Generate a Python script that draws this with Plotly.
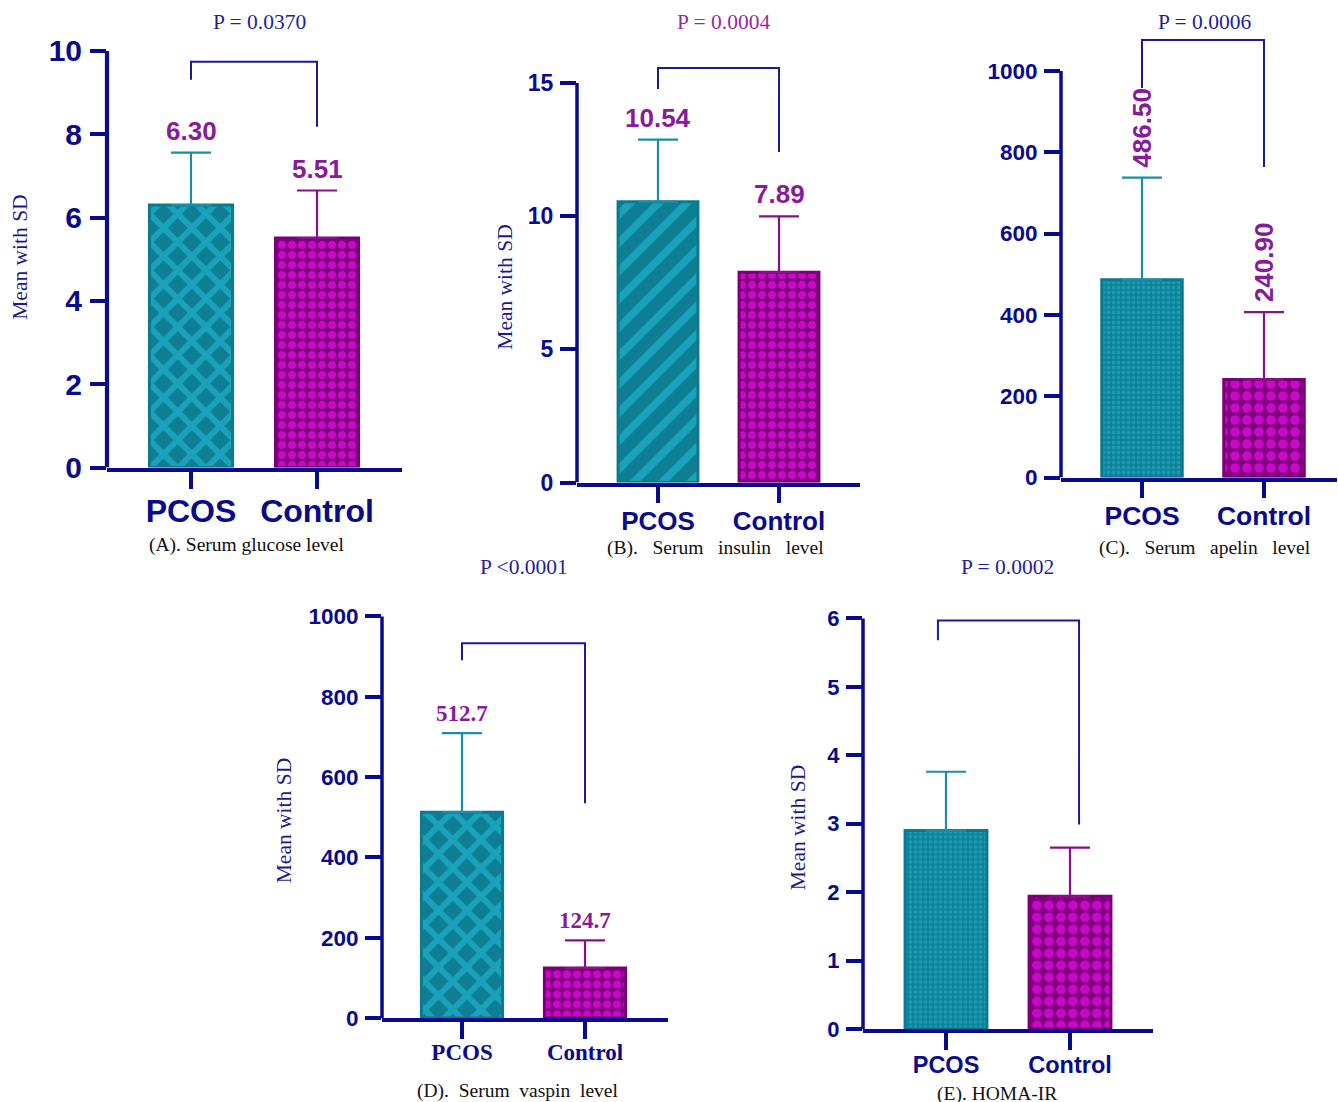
import plotly.graph_objects as go

W, H = 1338, 1102          # reference picture size (positions below are in these pixels)
FIG_H = 1118               # rendered figure height (photo is scaled back to H)
SANS = "Liberation Sans, Arial, sans-serif"
SERIF = "Liberation Serif, Times New Roman, serif"
NAVY = "#0a0a8c"
LABEL_PURPLE = "#8a1a9c"

# ---------------- data ----------------
categories = ["PCOS", "Control"]

glucose_mean = [6.30, 5.51]
glucose_sd = [1.26, 1.14]
insulin_mean = [10.54, 7.89]
insulin_sd = [2.33, 2.10]
apelin_mean = [486.50, 240.90]
apelin_sd = [251.0, 166.0]
vaspin_mean = [512.7, 124.7]
vaspin_sd = [197.0, 69.0]
homa_mean = [2.90, 1.94]
homa_sd = [0.86, 0.71]

glucose_ticks = [0, 2, 4, 6, 8, 10]
insulin_ticks = [0, 5, 10, 15]
apelin_ticks = [0, 200, 400, 600, 800, 1000]
vaspin_ticks = [0, 200, 400, 600, 800, 1000]
homa_ticks = [0, 1, 2, 3, 4, 5, 6]

glucose_labels = ["6.30", "5.51"]
insulin_labels = ["10.54", "7.89"]
apelin_labels = ["486.50", "240.90"]
vaspin_labels = ["512.7", "124.7"]
homa_labels = []

p_texts = ["P = 0.0370", "P = 0.0004", "P = 0.0006", "P <0.0001", "P = 0.0002"]
captions = [
    "(A). Serum glucose level",
    "(B).\u00a0\u00a0 Serum\u00a0\u00a0 insulin\u00a0\u00a0 level",
    "(C).\u00a0\u00a0 Serum\u00a0\u00a0 apelin\u00a0\u00a0 level",
    "(D).\u00a0 Serum\u00a0 vaspin\u00a0 level",
    "(E). HOMA-IR",
]
y_title = "Mean with SD"

# bracket heights (data units): left leg bottom, top, right leg bottom
brackets = [
    (0, 1, 9.31, 9.74, 8.18),
    (0, 1, 14.77, 15.56, 12.41),
    (0, 1, 958, 1076, 764),
    (0, 1, 891, 933, 535),
    (-0.065, 1.073, 5.68, 5.97, 2.99),
]

# ---------------- styles ----------------
TEAL_EDGE = "#0b7a8f"
PURP_EDGE = "#7a0078"
TEAL_ERR = "#1b8da5"
PURP_ERR = "#8a0f8a"

lattice = dict(shape="x", size=20, solidity=0.5, bgcolor="#0d7e94", fgcolor="#1aa2bb", fillmode="replace")
stripes = dict(shape="/", size=20, solidity=0.38, bgcolor="#0d7e94", fgcolor="#1aa2bb", fillmode="replace")
finechk = dict(shape=".", size=5, solidity=0.45, bgcolor="#0e8097", fgcolor="#1a9bb3", fillmode="replace")
purpchk = dict(shape=".", size=10, solidity=0.5, bgcolor="#82007f", fgcolor="#c80ac8", fillmode="replace")
purpchk2 = dict(shape=".", size=12, solidity=0.5, bgcolor="#82007f", fgcolor="#c80ac8", fillmode="replace")

panels = [
    dict(mean=glucose_mean, sd=glucose_sd, ticks=glucose_ticks, labels=glucose_labels,
         pat=(lattice, purpchk), spine=107, right=402, c0=191, c1=317, y0=468, ytop=51, domtop=30,
         lw=4.2, tfs=30, tfam=SANS, cfs=32, cfam=SANS, lfs=26, lfam=SANS, rot=False,
         p=(259, 22), pcol="#1f1f9a", cap=(247, 545), yt=(20, 258), stand=-5),
    dict(mean=insulin_mean, sd=insulin_sd, ticks=insulin_ticks, labels=insulin_labels,
         pat=(stripes, purpchk), spine=577, right=860, c0=658, c1=779, y0=483, ytop=83, domtop=30,
         lw=3.5, tfs=23, tfam=SANS, cfs=26, cfam=SANS, lfs=26, lfam=SANS, rot=False,
         p=(723, 22), pcol="#9a2a9c", cap=(715, 548), yt=(505, 288), stand=-5),
    dict(mean=apelin_mean, sd=apelin_sd, ticks=apelin_ticks, labels=apelin_labels,
         pat=(finechk, purpchk2), spine=1061, right=1337, c0=1142, c1=1264, y0=478, ytop=71, domtop=30,
         lw=3.5, tfs=22.5, tfam=SANS, cfs=26.5, cfam=SANS, lfs=26, lfam=SANS, rot=True,
         p=(1204, 22), pcol="#1f1f9a", cap=(1205, 548), yt=None, stand=-5),
    dict(mean=vaspin_mean, sd=vaspin_sd, ticks=vaspin_ticks, labels=vaspin_labels,
         pat=(lattice, purpchk), spine=382, right=668, c0=462, c1=585, y0=1019, ytop=617, domtop=600,
         lw=3.5, tfs=22.5, tfam=SANS, cfs=23, cfam=SERIF, lfs=23, lfam=SERIF, rot=False,
         p=(524, 568), pcol="#1f1f9a", cap=(517, 1092), yt=(284, 822), stand=-6),
    dict(mean=homa_mean, sd=homa_sd, ticks=homa_ticks, labels=homa_labels,
         pat=(finechk, purpchk2), spine=863, right=1153, c0=946, c1=1070, y0=1030, ytop=619, domtop=600,
         lw=3.5, tfs=22, tfam=SANS, cfs=23.5, cfam=SANS, lfs=23, lfam=SANS, rot=False,
         p=(1008, 568), pcol="#1f1f9a", cap=(997, 1095), yt=(798, 828), stand=-5),
]

fig = go.Figure()
shapes = []
annotations = []

for i, pn in enumerate(panels, start=1):
    sfx = "" if i == 1 else str(i)
    xa, ya = "x" + sfx, "y" + sfx
    sp = pn["c1"] - pn["c0"]
    xr = [-(pn["c0"] - pn["spine"]) / sp, (pn["right"] - pn["c0"]) / sp]
    axmax = pn["ticks"][-1]
    ymax = axmax * (pn["y0"] - pn["domtop"]) / (pn["y0"] - pn["ytop"])
    xdom = [pn["spine"] / W, pn["right"] / W]
    ydom = [1 - pn["y0"] / H, 1 - pn["domtop"] / H]

    for k, cat in enumerate(categories):
        fig.add_trace(go.Bar(
            x=[cat], y=[pn["mean"][k]], width=[0.66],
            xaxis=xa, yaxis=ya, showlegend=False,
            marker=dict(color=pn["pat"][k]["bgcolor"], pattern=pn["pat"][k],
                        line=dict(color=TEAL_EDGE if k == 0 else PURP_EDGE, width=3)),
            error_y=dict(type="data", symmetric=False, array=[pn["sd"][k]], arrayminus=[0],
                         color=TEAL_ERR if k == 0 else PURP_ERR, thickness=2.2, width=20),
            hoverinfo="skip",
        ))
        if k < len(pn["labels"]):
            annotations.append(dict(
                x=cat, y=pn["mean"][k] + pn["sd"][k], xref=xa, yref=ya,
                text=f"<b>{pn['labels'][k]}</b>", showarrow=False,
                textangle=-90 if pn["rot"] else 0,
                xanchor="center", yanchor="bottom", yshift=8 if pn["rot"] else 5,
                font=dict(family=pn["lfam"], size=pn["lfs"], color=LABEL_PURPLE),
            ))

    fig.layout["xaxis" + sfx] = dict(
        domain=xdom, type="category", categoryorder="array", categoryarray=categories,
        range=xr, anchor=ya, showline=True, linewidth=pn["lw"], linecolor=NAVY,
        ticks="outside", ticklen=17, tickwidth=pn["lw"], tickcolor=NAVY,
        showgrid=False, zeroline=False, ticklabelstandoff=pn["stand"],
        tickfont=dict(family=pn["cfam"], size=pn["cfs"], color=NAVY, weight="bold"),
    )
    fig.layout["yaxis" + sfx] = dict(
        domain=ydom, range=[0, ymax], anchor=xa, showline=False,
        tickvals=pn["ticks"], ticktext=[str(t) for t in pn["ticks"]],
        ticks="outside", ticklen=16, tickwidth=pn["lw"], tickcolor=NAVY,
        showgrid=False, zeroline=False, ticklabelstandoff=2,
        tickfont=dict(family=pn["tfam"], size=pn["tfs"], color=NAVY, weight="bold"),
    )
    # y spine (stops at top tick)
    shapes.append(dict(type="line", xref=xa + " domain", yref=ya, x0=0, x1=0, y0=0, y1=axmax,
                       line=dict(color=NAVY, width=pn["lw"])))
    # significance bracket
    bl, br, yl, yt_, yr = brackets[i - 1]
    shapes.append(dict(type="path", xref=xa, yref=ya,
                       path=f"M {bl},{yl} L {bl},{yt_} L {br},{yt_} L {br},{yr}",
                       line=dict(color="#1a1aa0", width=2)))
    # p-value
    annotations.append(dict(x=pn["p"][0] / W, y=1 - pn["p"][1] / H, xref="paper", yref="paper",
                            text=p_texts[i - 1], showarrow=False, xanchor="center", yanchor="middle",
                            font=dict(family=SERIF, size=21.5, color=pn["pcol"])))
    # caption
    annotations.append(dict(x=pn["cap"][0] / W, y=1 - pn["cap"][1] / H, xref="paper", yref="paper",
                            text=captions[i - 1], showarrow=False, xanchor="center", yanchor="middle",
                            font=dict(family=SERIF, size=19.5, color="#111111")))
    # y title
    if pn["yt"] is not None:
        annotations.append(dict(x=pn["yt"][0] / W, y=1 - pn["yt"][1] / H, xref="paper", yref="paper",
                                text=y_title, showarrow=False, textangle=-90,
                                xanchor="center", yanchor="middle",
                                font=dict(family=SERIF, size=21.5, color="#1a1a8c")))

fig.update_layout(
    width=W, height=FIG_H, autosize=False,
    margin=dict(l=0, r=0, t=0, b=0),
    paper_bgcolor="white", plot_bgcolor="rgba(0,0,0,0)",
    barmode="overlay", showlegend=False,
    shapes=shapes, annotations=annotations,
)

page_fix = "document.body.style.margin='0';"
fig.write_html("out.html", config={"displayModeBar": False}, post_script=page_fix)
